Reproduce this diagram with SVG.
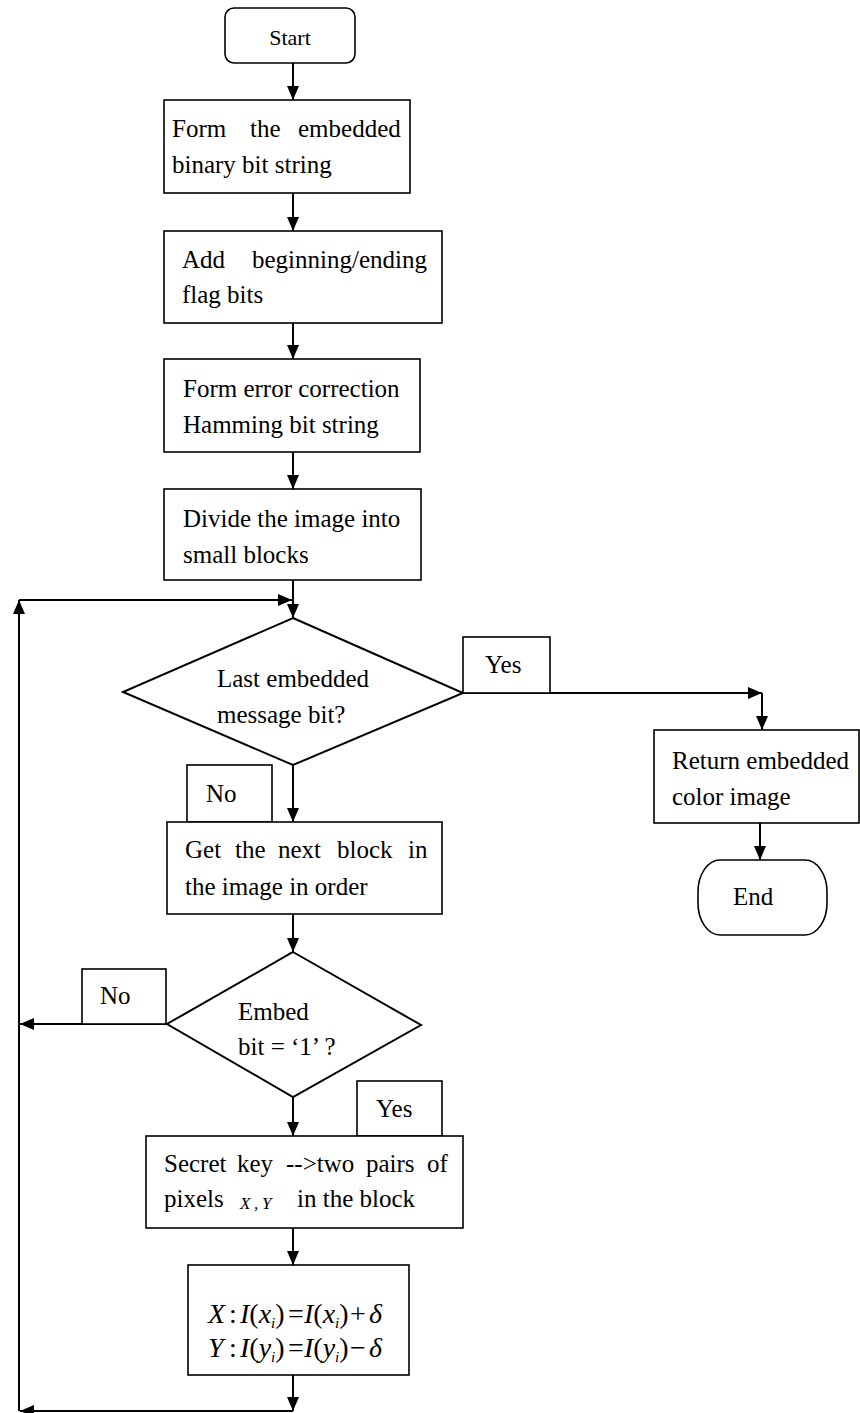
<svg xmlns="http://www.w3.org/2000/svg" width="860" height="1413" viewBox="0 0 860 1413" font-family="'Liberation Serif', Tinos, 'Times New Roman', 'DejaVu Serif', serif">
  <style>
    .box { fill: #fff; stroke: #000; stroke-width: 1.6; }
    .dia { fill: #fff; stroke: #000; stroke-width: 2; }
    .lbl { fill: #fff; stroke: #000; stroke-width: 1.6; }
    .t { font-size: 25px; fill: #000; }
    .m { font-size: 28px; fill: #000; }
    .it { font-style: italic; }
    .con { fill: none; stroke: #000; stroke-width: 2; marker-end: url(#ah); }
  </style>
  <defs>
    <marker id="ah" viewBox="0 0 14 12" refX="14" refY="6" markerWidth="14" markerHeight="12" markerUnits="userSpaceOnUse" orient="auto">
      <path d="M0,0 L14,6 L0,12 Z" fill="#000"/>
    </marker>
  </defs>
  <rect width="860" height="1413" fill="#fff"/>

  <!-- connectors -->
  <g id="connectors">
    <path class="con" d="M293,63 V100"/>
    <path class="con" d="M293,193 V231"/>
    <path class="con" d="M293,323 V359"/>
    <path class="con" d="M293,452 V489"/>
    <path class="con" d="M293,580 V618"/>
    <path class="con" d="M19,1411 V600"/>
    <path class="con" d="M19,600 H292"/>
    <path class="con" d="M463,693 H762"/>
    <path class="con" d="M762,693 V730"/>
    <path class="con" d="M293,765 V822"/>
    <path class="con" d="M760,823 V860"/>
    <path class="con" d="M293,914 V952"/>
    <path class="con" d="M167,1024 H20"/>
    <path class="con" d="M293,1097 V1136"/>
    <path class="con" d="M293,1228 V1265"/>
    <path class="con" d="M293,1375 V1411"/>
    <path class="con" d="M293,1411 H20"/>
  </g>

  <g id="start">
    <rect class="box" x="225" y="8" width="130" height="55" rx="9"/>
    <text class="t" x="290" y="45" text-anchor="middle" font-family="Liberation Serif" style="font-size:22px">Start</text>
  </g>

  <g id="form-bits">
    <rect class="box" x="164" y="100" width="246" height="93"/>
    <text class="t" y="137"><tspan x="172">Form</tspan><tspan x="250">the</tspan><tspan x="298">embedded</tspan></text>
    <text class="t" x="172" y="173">binary bit string</text>
  </g>

  <g id="add-flags">
    <rect class="box" x="164" y="231" width="278" height="92"/>
    <text class="t" y="268"><tspan x="182">Add</tspan><tspan x="252">beginning/ending</tspan></text>
    <text class="t" x="182" y="303">flag bits</text>
  </g>

  <g id="hamming">
    <rect class="box" x="164" y="359" width="256" height="93"/>
    <text class="t" x="183" y="397">Form error correction</text>
    <text class="t" x="183" y="433">Hamming bit string</text>
  </g>

  <g id="divide">
    <rect class="box" x="164" y="489" width="257" height="91"/>
    <text class="t" x="183" y="527">Divide the image into</text>
    <text class="t" x="183" y="563">small blocks</text>
  </g>

  <g id="last-bit">
    <polygon class="dia" points="293,618 463,693 293,765 123,692"/>
    <text class="t" x="217" y="687">Last embedded</text>
    <text class="t" x="217" y="723">message bit?</text>
  </g>

  <g id="yes-1">
    <rect class="lbl" x="463" y="637" width="87" height="56"/>
    <text class="t" x="485" y="673">Yes</text>
  </g>

  <g id="return">
    <rect class="box" x="654" y="730" width="205" height="93"/>
    <text class="t" x="672" y="769">Return embedded</text>
    <text class="t" x="672" y="805">color image</text>
  </g>

  <g id="end">
    <rect class="box" x="698" y="860" width="129" height="75" rx="22" ry="32"/>
    <text class="t" x="733" y="905">End</text>
  </g>

  <g id="no-1">
    <rect class="lbl" x="187" y="765" width="85" height="57"/>
    <text class="t" x="206" y="802">No</text>
  </g>

  <g id="next-block">
    <rect class="box" x="167" y="822" width="275" height="92"/>
    <text class="t" y="858"><tspan x="185">Get</tspan><tspan x="235">the</tspan><tspan x="278">next</tspan><tspan x="337">block</tspan><tspan x="408">in</tspan></text>
    <text class="t" x="185" y="895">the image in order</text>
  </g>

  <g id="embed-bit">
    <polygon class="dia" points="293,952 421,1025 293,1097 167,1024"/>
    <text class="t" x="238" y="1020">Embed</text>
    <text class="t" x="238" y="1055">bit = ‘1’ ?</text>
  </g>

  <g id="no-2">
    <rect class="lbl" x="82" y="969" width="84" height="55"/>
    <text class="t" x="100" y="1004">No</text>
  </g>

  <g id="yes-2">
    <rect class="lbl" x="357" y="1081" width="85" height="55"/>
    <text class="t" x="376" y="1117">Yes</text>
  </g>

  <g id="secret-key">
    <rect class="box" x="146" y="1136" width="317" height="92"/>
    <text class="t" y="1172"><tspan x="164">Secret</tspan><tspan x="237">key</tspan><tspan x="286">--&gt;two</tspan><tspan x="366">pairs</tspan><tspan x="427">of</tspan></text>
    <text class="t" x="164" y="1207">pixels</text>
    <text class="t it" y="1209" style="font-size:17px"><tspan x="240">X</tspan><tspan x="254">,</tspan><tspan x="262">Y</tspan></text>
    <text class="t" x="297" y="1207">in the block</text>
  </g>

  <g id="update">
    <rect class="box" x="188" y="1265" width="221" height="110"/>
    <text class="m" y="1323"><tspan class="it" x="208">X</tspan><tspan x="229">:</tspan><tspan class="it" x="240">I</tspan><tspan>(</tspan><tspan class="it">x</tspan><tspan class="it" dy="5" style="font-size:15px">i</tspan><tspan dy="-5">)</tspan><tspan x="288">=</tspan><tspan class="it" x="304">I</tspan><tspan>(</tspan><tspan class="it">x</tspan><tspan class="it" dy="5" style="font-size:15px">i</tspan><tspan dy="-5">)</tspan><tspan x="350">+</tspan><tspan class="it" x="369">δ</tspan></text>
    <text class="m" y="1357"><tspan class="it" x="208">Y</tspan><tspan x="229">:</tspan><tspan class="it" x="240">I</tspan><tspan>(</tspan><tspan class="it">y</tspan><tspan class="it" dy="5" style="font-size:15px">i</tspan><tspan dy="-5">)</tspan><tspan x="288">=</tspan><tspan class="it" x="304">I</tspan><tspan>(</tspan><tspan class="it">y</tspan><tspan class="it" dy="5" style="font-size:15px">i</tspan><tspan dy="-5">)</tspan><tspan x="350">−</tspan><tspan class="it" x="369">δ</tspan></text>
  </g>
</svg>
